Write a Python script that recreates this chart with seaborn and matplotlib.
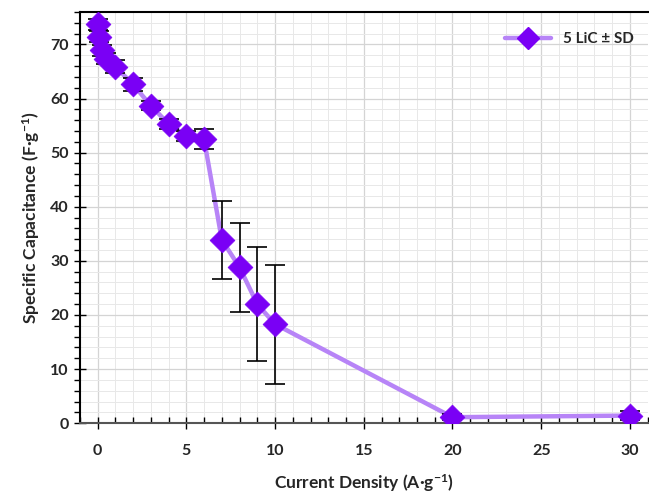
import matplotlib
matplotlib.use("Agg")
import matplotlib.pyplot as plt
from matplotlib.lines import Line2D
from matplotlib.ticker import MultipleLocator
import seaborn as sns
import pandas as pd

current_density = [0.05, 0.1, 0.25, 0.5, 1, 2, 3, 4, 5, 6, 7, 8, 9, 10, 20, 30]
capacitance = [73.7, 71.4, 68.9, 67.4, 65.9, 62.6, 58.7, 55.3, 53.1, 52.5,
               33.9, 28.8, 22.0, 18.3, 1.1, 1.4]
sd = [1.0, 1.0, 1.0, 1.0, 1.2, 1.2, 0.9, 1.0, 0.9, 1.85,
      7.2, 8.2, 10.5, 11.0, 0.6, 0.9]
series_label = "5 LiC ± SD"

df = pd.DataFrame({"x": current_density, "y": capacitance, "sd": sd})

sns.set_theme(style="white")
plt.rcParams["font.family"] = ["Lato", "DejaVu Sans"]
plt.rcParams["font.weight"] = "bold"
plt.rcParams["mathtext.fontset"] = "custom"
plt.rcParams["mathtext.rm"] = "Lato:bold"
plt.rcParams["mathtext.it"] = "Lato:bold"
plt.rcParams["mathtext.bf"] = "Lato:bold"
plt.rcParams["mathtext.default"] = "rm"

fig = plt.figure(figsize=(6.49, 4.99), dpi=100)
ax = fig.add_axes([0.123, 0.152, 0.875, 0.824])

line_color = "#B784F7"
marker_color = "#7A00F5"

sns.lineplot(data=df, x="x", y="y", ax=ax, color=line_color, linewidth=3.2,
             zorder=2, sort=False)
ax.errorbar(df["x"], df["y"], yerr=df["sd"], fmt="none", ecolor="black",
            elinewidth=1.2, capsize=7.5, capthick=1.2, zorder=2.5)
sns.scatterplot(data=df, x="x", y="y", ax=ax, marker="D", s=160,
                color=marker_color, edgecolor=marker_color, linewidth=0.5,
                zorder=3)

ax.set_xlim(-1, 31)
ax.set_ylim(0, 76)
ax.xaxis.set_major_locator(MultipleLocator(5))
ax.xaxis.set_minor_locator(MultipleLocator(1))
ax.yaxis.set_major_locator(MultipleLocator(10))
ax.yaxis.set_minor_locator(MultipleLocator(2))

ax.grid(which="major", color="#D4D4D4", linewidth=0.9)
ax.grid(which="minor", color="#E8E8E8", linewidth=0.7)
ax.set_axisbelow(True)

ax.tick_params(axis="x", which="major", direction="inout", length=8, width=1,
               color="black", labelsize=11.5, pad=11)
ax.tick_params(axis="x", which="minor", direction="in", length=4, width=1,
               color="black")
ax.tick_params(axis="y", which="major", direction="inout", length=8, width=1,
               color="black", labelsize=11.5, pad=4)
ax.tick_params(axis="y", which="minor", direction="out", length=4, width=1,
               color="black")
ax.tick_params(bottom=True, left=True, which="both")

for lab in ax.get_xticklabels() + ax.get_yticklabels():
    lab.set_fontweight("bold")

for side in ["left", "top"]:
    ax.spines[side].set_color("black")
    ax.spines[side].set_linewidth(1.5)
ax.spines["bottom"].set_color("#555555")
ax.spines["bottom"].set_linewidth(1.5)
ax.spines["right"].set_visible(False)

ax.set_xlabel("Current Density (A·g$^{-1}$)", fontsize=12.5, fontweight="bold",
              labelpad=10)
ax.set_ylabel("Specific Capacitance (F·g$^{-1}$)", fontsize=12.5,
              fontweight="bold", labelpad=6)

handle = Line2D([0], [0], color=line_color, linewidth=3.2, marker="D",
                markersize=11, markerfacecolor=marker_color,
                markeredgecolor=marker_color)
leg = ax.legend([handle], [series_label], loc="upper right", frameon=False,
                fontsize=11, handlelength=3.0, bbox_to_anchor=(1.0, 0.985))
for t in leg.get_texts():
    t.set_fontweight("bold")

fig.savefig("out.png", dpi=100)
